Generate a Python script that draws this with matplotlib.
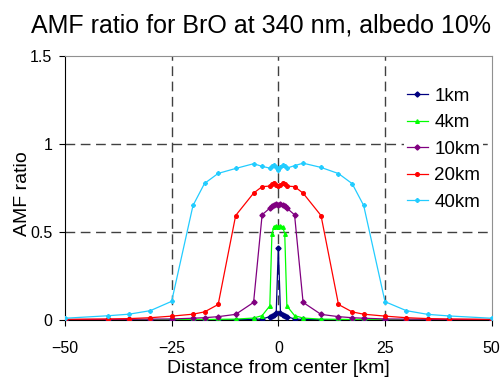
import matplotlib
matplotlib.use("agg")

import matplotlib.pyplot as plt

plt.rcParams["font.family"] = ["Liberation Sans", "DejaVu Sans"]

# distance from center [km]
dist = [-50, -40, -35, -30, -25, -20, -17.3, -14.1, -10, -5.8, -3.8, -2, -1.5, -1, -0.5,
        0, 0.5, 1, 1.5, 2, 3.8, 5.8, 10, 14.1, 17.3, 20, 25, 30, 35, 40, 50]

amf_1km = [0.0, 0.0, 0.0, 0.0, 0.0, 0.001, 0.001, 0.001, 0.002, 0.003, 0.006, 0.019, 0.022, 0.03, 0.041,
           0.41, 0.041, 0.03, 0.022, 0.019, 0.006, 0.003, 0.002, 0.001, 0.001, 0.001, 0.0, 0.0, 0.0, 0.0, 0.0]
amf_4km = [0.001, 0.001, 0.001, 0.002, 0.002, 0.003, 0.003, 0.004, 0.005, 0.011, 0.025, 0.08, 0.49, 0.53, 0.535,
           0.53, 0.535, 0.53, 0.49, 0.08, 0.025, 0.011, 0.005, 0.004, 0.003, 0.003, 0.002, 0.002, 0.001, 0.001, 0.001]
amf_10km = [0.002, 0.003, 0.004, 0.005, 0.006, 0.01, 0.013, 0.019, 0.032, 0.1, 0.597, 0.635, 0.645, 0.655, 0.66,
            0.655, 0.66, 0.655, 0.645, 0.635, 0.597, 0.1, 0.032, 0.019, 0.013, 0.01, 0.006, 0.005, 0.004, 0.003, 0.002]
amf_20km = [0.004, 0.006, 0.008, 0.013, 0.022, 0.033, 0.046, 0.088, 0.593, 0.72, 0.757, 0.76, 0.77, 0.775, 0.765,
            0.76, 0.765, 0.775, 0.77, 0.76, 0.757, 0.72, 0.593, 0.088, 0.046, 0.033, 0.022, 0.013, 0.008, 0.006, 0.004]
amf_40km = [0.01, 0.024, 0.033, 0.053, 0.106, 0.65, 0.775, 0.832, 0.86, 0.887, 0.872, 0.862, 0.875, 0.88, 0.87,
            0.85, 0.87, 0.88, 0.875, 0.862, 0.876, 0.89, 0.866, 0.831, 0.774, 0.65, 0.104, 0.053, 0.032, 0.023, 0.01]

series = [
    ("1km", amf_1km, "#000080", "D"),
    ("4km", amf_4km, "#00FF00", "^"),
    ("10km", amf_10km, "#800080", "D"),
    ("20km", amf_20km, "#FF0000", "o"),
    ("40km", amf_40km, "#22CCFF", "P"),
]

fig = plt.figure(figsize=(5.03, 3.81), dpi=100)
ax = fig.add_axes([0.1292, 0.1601, 0.8483, 0.6937])

# dashed grid at the inner ticks only
for gx in (-25, 0, 25):
    ax.axvline(gx, color="#404040", lw=1, ls=(0, (7, 4)), zorder=1)
for gy in (0.5, 1.0):
    ax.axhline(gy, color="#404040", lw=1, ls=(0, (7, 4)), zorder=1)

for name, vals, col, mk in series:
    ax.plot(dist, vals, color=col, marker=mk, markersize=2.6, lw=0.9, label=name, zorder=3)

ax.set_xlim(-50, 50)
ax.set_ylim(0, 1.5)
ax.set_xticks([-50, -25, 0, 25, 50])
ax.set_yticks([0, 0.5, 1, 1.5])
ax.set_yticklabels(["0", "0.5", "1", "1.5"])
ax.tick_params(axis="both", direction="out", length=4, width=0.8, labelsize=11.5, pad=5)
ax.tick_params(axis="x", pad=11)

ax.spines["left"].set_color("black")
ax.spines["bottom"].set_color("black")
ax.spines["top"].set_color("#909090")
ax.spines["right"].set_color("#909090")
for s in ax.spines.values():
    s.set_linewidth(0.8)

ax.set_xlabel("Distance from center [km]", fontsize=14, labelpad=3)
ax.set_ylabel("AMF ratio", fontsize=14)
ax.yaxis.set_label_coords(-0.08, 0.48)

fig.text(0.519, 0.934, "AMF ratio for BrO at 340 nm, albedo 10%", fontsize=18,
         ha="center", va="center")

# white box behind the legend, no border (it hides the gridline)
leg = ax.legend(loc="upper left", bbox_to_anchor=(0.795, 0.89), frameon=True, fontsize=13.5,
                handlelength=1.1, handletextpad=0.35, labelspacing=0.5, borderpad=0.15,
                borderaxespad=0, fancybox=False, framealpha=1)
leg.get_frame().set_facecolor("white")
leg.get_frame().set_edgecolor("none")
leg.set_zorder(5)

fig.savefig("out.png", dpi=100)
